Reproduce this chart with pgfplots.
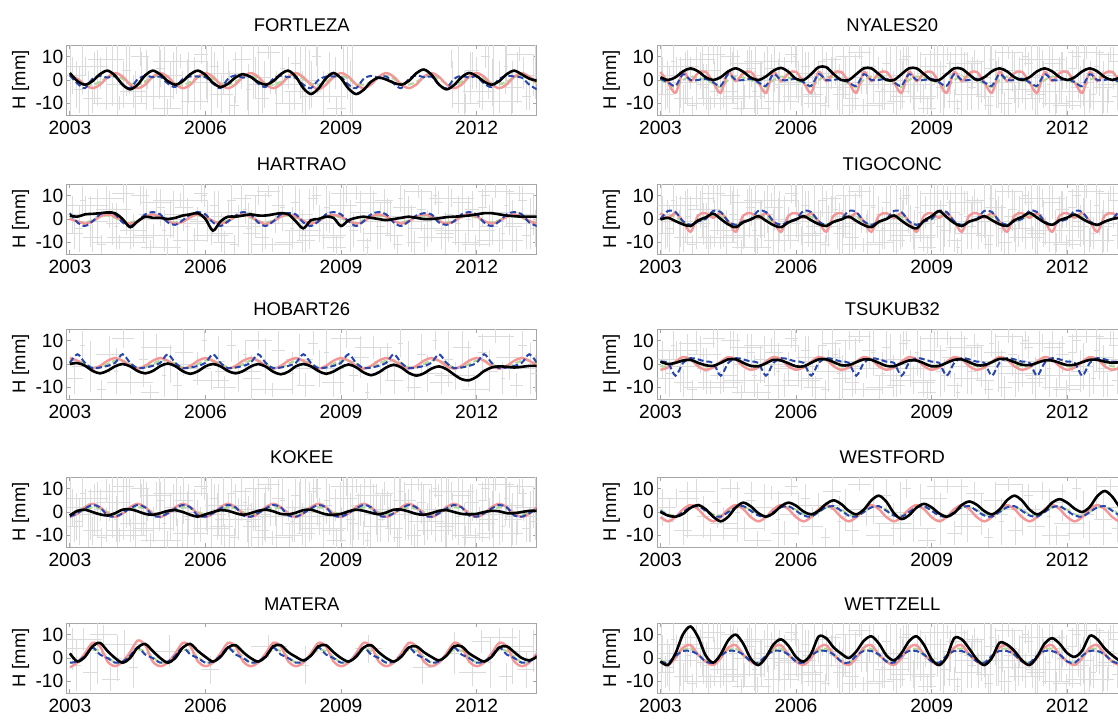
\documentclass[border=0pt]{standalone}
\usepackage{fontspec}
\setmainfont{Liberation Sans}
\usepackage{pgfplots}
\pgfplotsset{compat=1.18}
\usepackage{pgfplotstable}
\definecolor{cred}{RGB}{244,150,150}
\definecolor{cblue}{RGB}{40,70,175}
\definecolor{cgreen}{RGB}{175,215,150}

% grey error-bar segments (vertical and horizontal), separated by nan
\pgfplotstableread[row sep=\\]{x y\\
3.05 -6\\3.05 10\\nan nan\\2.75 2\\3.35 2\\nan nan\\
3.2 -14\\3.2 6\\nan nan\\3.1 -4\\3.3 -4\\nan nan\\
3.35 2\\3.35 10\\nan nan\\2.85 6\\3.85 6\\nan nan\\
3.5 -14\\3.5 -2\\nan nan\\3.3 -8\\3.7 -8\\nan nan\\
3.6 -11\\3.6 13\\nan nan\\3.55 1\\3.65 1\\nan nan\\
3.8 4\\3.8 14\\nan nan\\3.4 9\\4.2 9\\nan nan\\
3.95 -11\\3.95 7\\nan nan\\3.8 -2\\4.1 -2\\nan nan\\
4.1 -13\\4.1 -7\\nan nan\\3.5 -10\\4.7 -10\\nan nan\\
4.25 -7\\4.25 15\\nan nan\\4.15 4\\4.35 4\\nan nan\\
4.4 -12\\4.4 2\\nan nan\\4.1 -5\\4.7 -5\\nan nan\\
4.55 6\\4.55 14\\nan nan\\4.35 10\\4.75 10\\nan nan\\
4.7 -13\\4.7 13\\nan nan\\4.65 0\\4.75 0\\nan nan\\
4.85 -12\\4.85 -2\\nan nan\\4.4 -7\\5.3 -7\\nan nan\\
5 -3\\5 13\\nan nan\\4.9 5\\5.1 5\\nan nan\\
5.15 -16\\5.15 -8\\nan nan\\4.85 -12\\5.45 -12\\nan nan\\
5.3 -8\\5.3 12\\nan nan\\5.1 2\\5.5 2\\nan nan\\
5.45 5\\5.45 11\\nan nan\\4.85 8\\6.05 8\\nan nan\\
5.6 -15\\5.6 9\\nan nan\\5.55 -3\\5.65 -3\\nan nan\\
5.75 -14\\5.75 -4\\nan nan\\5.45 -9\\6.05 -9\\nan nan\\
5.9 7\\5.9 15\\nan nan\\5.75 11\\6.05 11\\nan nan\\
6.05 -10\\6.05 8\\nan nan\\5.65 -1\\6.45 -1\\nan nan\\
6.2 0\\6.2 12\\nan nan\\6.1 6\\6.3 6\\nan nan\\
6.35 -14\\6.35 2\\nan nan\\6.1 -6\\6.6 -6\\nan nan\\
6.5 -2\\6.5 8\\nan nan\\6 3\\7 3\\nan nan\\
6.65 -15\\6.65 -7\\nan nan\\6.55 -11\\6.75 -11\\nan nan\\
6.8 3\\6.8 15\\nan nan\\6.6 9\\7 9\\nan nan\\
6.95 -15\\6.95 7\\nan nan\\6.9 -4\\7 -4\\nan nan\\
7.1 -8\\7.1 10\\nan nan\\6.75 1\\7.45 1\\nan nan\\
7.25 -14\\7.25 -2\\nan nan\\7.1 -8\\7.4 -8\\nan nan\\
7.4 9\\7.4 15\\nan nan\\7.15 12\\7.65 12\\nan nan\\
7.55 -6\\7.55 2\\nan nan\\6.95 -2\\8.15 -2\\nan nan\\
7.7 -5\\7.7 15\\nan nan\\7.65 5\\7.75 5\\nan nan\\
7.85 -15\\7.85 -5\\nan nan\\7.55 -10\\8.15 -10\\nan nan\\
8 0\\8 14\\nan nan\\7.9 7\\8.1 7\\nan nan\\
8.15 -14\\8.15 4\\nan nan\\7.75 -5\\8.55 -5\\nan nan\\
8.3 -13\\8.3 13\\nan nan\\8.1 0\\8.5 0\\nan nan\\
8.45 6\\8.45 14\\nan nan\\8.35 10\\8.55 10\\nan nan\\
8.6 -13\\8.6 -1\\nan nan\\8.1 -7\\9.1 -7\\nan nan\\
8.75 -6\\8.75 12\\nan nan\\8.7 3\\8.8 3\\nan nan\\
8.9 -17\\8.9 -7\\nan nan\\8.7 -12\\9.1 -12\\nan nan\\
9.05 -2\\9.05 14\\nan nan\\8.75 6\\9.35 6\\nan nan\\
9.2 -14\\9.2 8\\nan nan\\9.1 -3\\9.3 -3\\nan nan\\
9.35 8\\9.35 14\\nan nan\\8.9 11\\9.8 11\\nan nan\\
9.5 -14\\9.5 -4\\nan nan\\9.35 -9\\9.65 -9\\nan nan\\
9.65 -10\\9.65 14\\nan nan\\9.6 2\\9.7 2\\nan nan\\
9.8 -13\\9.8 1\\nan nan\\9.5 -6\\10.1 -6\\nan nan\\
9.95 3\\9.95 13\\nan nan\\9.75 8\\10.15 8\\nan nan\\
10.1 -10\\10.1 8\\nan nan\\9.5 -1\\10.7 -1\\nan nan\\
10.25 -15\\10.25 -7\\nan nan\\10.15 -11\\10.35 -11\\nan nan\\
10.4 -3\\10.4 13\\nan nan\\10.15 5\\10.65 5\\nan nan\\
10.55 -14\\10.55 6\\nan nan\\10.5 -4\\10.6 -4\\nan nan\\
10.7 9\\10.7 15\\nan nan\\10.4 12\\11 12\\nan nan\\
10.85 -14\\10.85 -2\\nan nan\\10.7 -8\\11 -8\\nan nan\\
11 -10\\11 12\\nan nan\\10.6 1\\11.4 1\\nan nan\\
11.15 2\\11.15 12\\nan nan\\11.05 7\\11.25 7\\nan nan\\
11.3 -15\\11.3 3\\nan nan\\11.1 -6\\11.5 -6\\nan nan\\
11.45 5\\11.45 13\\nan nan\\10.95 9\\11.95 9\\nan nan\\
11.6 -14\\11.6 10\\nan nan\\11.55 -2\\11.65 -2\\nan nan\\
11.75 -14\\11.75 -6\\nan nan\\11.45 -10\\12.05 -10\\nan nan\\
11.9 -4\\11.9 12\\nan nan\\11.75 4\\12.05 4\\nan nan\\
12.05 -12\\12.05 2\\nan nan\\11.7 -5\\12.4 -5\\nan nan\\
12.2 5\\12.2 15\\nan nan\\12.1 10\\12.3 10\\nan nan\\
12.35 -11\\12.35 9\\nan nan\\12.1 -1\\12.6 -1\\nan nan\\
12.5 -14\\12.5 -4\\nan nan\\12 -9\\13 -9\\nan nan\\
12.65 -3\\12.65 15\\nan nan\\12.6 6\\12.7 6\\nan nan\\
12.8 -14\\12.8 8\\nan nan\\12.6 -3\\13 -3\\nan nan\\
12.95 8\\12.95 14\\nan nan\\12.65 11\\13.25 11\\nan nan\\
13.1 -13\\13.1 -1\\nan nan\\13 -7\\13.2 -7\\nan nan\\
13.25 -7\\13.25 11\\nan nan\\12.85 2\\13.65 2\\nan nan\\
}\NA

\pgfplotstableread[row sep=\\]{x y\\
3.1 -13\\3.1 1\\nan nan\\2.9 -6\\3.3 -6\\nan nan\\
3.28 2\\3.28 14\\nan nan\\3.23 8\\3.33 8\\nan nan\\
3.45 -12\\3.45 10\\nan nan\\3.05 -1\\3.85 -1\\nan nan\\
3.7 -15\\3.7 -7\\nan nan\\3.6 -11\\3.8 -11\\nan nan\\
3.88 -4\\3.88 12\\nan nan\\3.58 4\\4.18 4\\nan nan\\
4.02 -13\\4.02 7\\nan nan\\3.97 -3\\4.07 -3\\nan nan\\
4.18 7\\4.18 15\\nan nan\\3.93 11\\4.43 11\\nan nan\\
4.33 -13\\4.33 -3\\nan nan\\3.83 -8\\4.83 -8\\nan nan\\
4.62 -10\\4.62 14\\nan nan\\4.52 2\\4.72 2\\nan nan\\
4.78 -15\\4.78 -9\\nan nan\\4.58 -12\\4.98 -12\\nan nan\\
4.92 1\\4.92 13\\nan nan\\4.57 7\\5.27 7\\nan nan\\
5.08 -14\\5.08 4\\nan nan\\5.03 -5\\5.13 -5\\nan nan\\
5.22 -8\\5.22 8\\nan nan\\4.62 0\\5.82 0\\nan nan\\
5.38 -15\\5.38 -3\\nan nan\\5.28 -9\\5.48 -9\\nan nan\\
5.52 -5\\5.52 15\\nan nan\\5.32 5\\5.72 5\\nan nan\\
5.82 -9\\5.82 5\\nan nan\\5.52 -2\\6.12 -2\\nan nan\\
5.98 5\\5.98 15\\nan nan\\5.93 10\\6.03 10\\nan nan\\
6.12 -11\\6.12 -3\\nan nan\\5.72 -7\\6.52 -7\\nan nan\\
6.28 -10\\6.28 12\\nan nan\\6.13 1\\6.43 1\\nan nan\\
6.42 -15\\6.42 -5\\nan nan\\6.17 -10\\6.67 -10\\nan nan\\
6.58 1\\6.58 15\\nan nan\\6.48 8\\6.68 8\\nan nan\\
6.72 -12\\6.72 6\\nan nan\\6.22 -3\\7.22 -3\\nan nan\\
6.88 -2\\6.88 10\\nan nan\\6.83 4\\6.93 4\\nan nan\\
7.02 -16\\7.02 4\\nan nan\\6.82 -6\\7.22 -6\\nan nan\\
7.18 6\\7.18 14\\nan nan\\6.88 10\\7.48 10\\nan nan\\
7.32 -13\\7.32 11\\nan nan\\7.22 -1\\7.42 -1\\nan nan\\
7.48 -14\\7.48 -8\\nan nan\\7.03 -11\\7.93 -11\\nan nan\\
7.62 -2\\7.62 14\\nan nan\\7.47 6\\7.77 6\\nan nan\\
7.92 -13\\7.92 5\\nan nan\\7.87 -4\\7.97 -4\\nan nan\\
8.08 -9\\8.08 13\\nan nan\\7.78 2\\8.38 2\\nan nan\\
8.22 -14\\8.22 -4\\nan nan\\8.02 -9\\8.42 -9\\nan nan\\
8.38 4\\8.38 14\\nan nan\\8.28 9\\8.48 9\\nan nan\\
8.52 -10\\8.52 6\\nan nan\\7.97 -2\\9.07 -2\\nan nan\\
8.68 -5\\8.68 15\\nan nan\\8.63 5\\8.73 5\\nan nan\\
8.82 -14\\8.82 -2\\nan nan\\8.57 -8\\9.07 -8\\nan nan\\
8.98 -13\\8.98 13\\nan nan\\8.83 0\\9.13 0\\nan nan\\
9.12 7\\9.12 15\\nan nan\\8.77 11\\9.47 11\\nan nan\\
9.28 -12\\9.28 2\\nan nan\\9.18 -5\\9.38 -5\\nan nan\\
9.42 -6\\9.42 12\\nan nan\\9.22 3\\9.62 3\\nan nan\\
9.58 -16\\9.58 -8\\nan nan\\9.53 -12\\9.63 -12\\nan nan\\
9.72 2\\9.72 12\\nan nan\\9.32 7\\10.12 7\\nan nan\\
9.88 -13\\9.88 7\\nan nan\\9.78 -3\\9.98 -3\\nan nan\\
10.02 -7\\10.02 9\\nan nan\\9.72 1\\10.32 1\\nan nan\\
10.18 -13\\10.18 -1\\nan nan\\9.98 -7\\10.38 -7\\nan nan\\
10.32 3\\10.32 15\\nan nan\\10.27 9\\10.37 9\\nan nan\\
10.48 -12\\10.48 10\\nan nan\\9.98 -1\\10.98 -1\\nan nan\\
10.62 -15\\10.62 -5\\nan nan\\10.47 -10\\10.77 -10\\nan nan\\
10.78 -5\\10.78 13\\nan nan\\10.68 4\\10.88 4\\nan nan\\
10.92 -12\\10.92 4\\nan nan\\10.57 -4\\11.27 -4\\nan nan\\
11.08 6\\11.08 14\\nan nan\\11.03 10\\11.13 10\\nan nan\\
11.22 -13\\11.22 -3\\nan nan\\10.97 -8\\11.47 -8\\nan nan\\
11.38 -10\\11.38 14\\nan nan\\11.28 2\\11.48 2\\nan nan\\
11.52 -11\\11.52 1\\nan nan\\11.07 -5\\11.97 -5\\nan nan\\
11.68 0\\11.68 14\\nan nan\\11.48 7\\11.88 7\\nan nan\\
11.82 -10\\11.82 10\\nan nan\\11.77 0\\11.87 0\\nan nan\\
11.98 -15\\11.98 -7\\nan nan\\11.68 -11\\12.28 -11\\nan nan\\
12.12 -3\\12.12 13\\nan nan\\12.02 5\\12.22 5\\nan nan\\
12.28 -12\\12.28 6\\nan nan\\12.08 -3\\12.48 -3\\nan nan\\
12.42 9\\12.42 15\\nan nan\\12.02 12\\12.82 12\\nan nan\\
12.58 -13\\12.58 1\\nan nan\\12.53 -6\\12.63 -6\\nan nan\\
12.72 -7\\12.72 13\\nan nan\\12.42 3\\13.02 3\\nan nan\\
12.88 -14\\12.88 -4\\nan nan\\12.73 -9\\13.03 -9\\nan nan\\
13.02 2\\13.02 14\\nan nan\\12.92 8\\13.12 8\\nan nan\\
13.18 -13\\13.18 9\\nan nan\\12.68 -2\\13.68 -2\\nan nan\\
13.3 -12\\13.3 4\\nan nan\\13.2 -4\\13.4 -4\\nan nan\\
}\NB

\pgfplotstableread[row sep=\\]{x y\\
3.05 -5\\3.05 13\\nan nan\\2.75 4\\3.35 4\\nan nan\\
3.15 -14\\3.15 8\\nan nan\\3.05 -3\\3.25 -3\\nan nan\\
3.3 3\\3.3 13\\nan nan\\2.9 8\\3.7 8\\nan nan\\
3.45 -14\\3.45 2\\nan nan\\3.3 -6\\3.6 -6\\nan nan\\
3.6 -11\\3.6 15\\nan nan\\3.55 2\\3.65 2\\nan nan\\
3.75 6\\3.75 14\\nan nan\\3.45 10\\4.05 10\\nan nan\\
3.9 -14\\3.9 -4\\nan nan\\3.7 -9\\4.1 -9\\nan nan\\
4.05 -10\\4.05 10\\nan nan\\3.95 0\\4.15 0\\nan nan\\
4.2 0\\4.2 12\\nan nan\\3.7 6\\4.7 6\\nan nan\\
4.4 -13\\4.4 5\\nan nan\\4.3 -4\\4.5 -4\\nan nan\\
5.2 -4\\5.2 10\\nan nan\\4.9 3\\5.5 3\\nan nan\\
6.1 -11\\6.1 1\\nan nan\\5.9 -5\\6.3 -5\\nan nan\\
7.4 0\\7.4 10\\nan nan\\7 5\\7.8 5\\nan nan\\
8.2 -11\\8.2 5\\nan nan\\8.1 -3\\8.3 -3\\nan nan\\
9.6 -2\\9.6 10\\nan nan\\9.3 4\\9.9 4\\nan nan\\
10.8 -11\\10.8 3\\nan nan\\10.6 -4\\11 -4\\nan nan\\
11.5 -7\\11.5 11\\nan nan\\11.4 2\\11.6 2\\nan nan\\
11.9 -12\\11.9 0\\nan nan\\11.6 -6\\12.2 -6\\nan nan\\
12.1 2\\12.1 12\\nan nan\\11.9 7\\12.3 7\\nan nan\\
12.3 -13\\12.3 9\\nan nan\\12.25 -2\\12.35 -2\\nan nan\\
12.5 5\\12.5 13\\nan nan\\12.1 9\\12.9 9\\nan nan\\
12.65 -14\\12.65 -2\\nan nan\\12.5 -8\\12.8 -8\\nan nan\\
12.8 -11\\12.8 13\\nan nan\\12.7 1\\12.9 1\\nan nan\\
12.95 -2\\12.95 12\\nan nan\\12.65 5\\13.25 5\\nan nan\\
13.1 -13\\13.1 3\\nan nan\\12.9 -5\\13.3 -5\\nan nan\\
13.25 -6\\13.25 12\\nan nan\\12.85 3\\13.65 3\\nan nan\\
}\NC

% dense vertical error bars
\pgfplotstableread[row sep=\\]{x y\\
3.02 -15\\3.02 15\\nan nan\\3.15 -12\\3.15 8\\nan nan\\3.28 -6\\3.28 15\\nan nan\\3.41 -15\\3.41 4\\nan nan\\
3.54 -10\\3.54 12\\nan nan\\3.67 -4\\3.67 10\\nan nan\\3.80 -13\\3.80 2\\nan nan\\3.93 -8\\3.93 15\\nan nan\\
4.06 -15\\4.06 15\\nan nan\\4.19 -12\\4.19 8\\nan nan\\4.32 -6\\4.32 15\\nan nan\\4.45 -15\\4.45 4\\nan nan\\
4.58 -10\\4.58 12\\nan nan\\4.71 -4\\4.71 10\\nan nan\\4.84 -13\\4.84 2\\nan nan\\4.97 -8\\4.97 15\\nan nan\\
5.10 -15\\5.10 15\\nan nan\\5.23 -12\\5.23 8\\nan nan\\5.36 -6\\5.36 15\\nan nan\\5.49 -15\\5.49 4\\nan nan\\
5.62 -10\\5.62 12\\nan nan\\5.75 -4\\5.75 10\\nan nan\\5.88 -13\\5.88 2\\nan nan\\6.01 -8\\6.01 15\\nan nan\\
6.14 -15\\6.14 15\\nan nan\\6.27 -12\\6.27 8\\nan nan\\6.40 -6\\6.40 15\\nan nan\\6.53 -15\\6.53 4\\nan nan\\
6.66 -10\\6.66 12\\nan nan\\6.79 -4\\6.79 10\\nan nan\\6.92 -13\\6.92 2\\nan nan\\7.05 -8\\7.05 15\\nan nan\\
7.18 -15\\7.18 15\\nan nan\\7.31 -12\\7.31 8\\nan nan\\7.44 -6\\7.44 15\\nan nan\\7.57 -15\\7.57 4\\nan nan\\
7.70 -10\\7.70 12\\nan nan\\7.83 -4\\7.83 10\\nan nan\\7.96 -13\\7.96 2\\nan nan\\8.09 -8\\8.09 15\\nan nan\\
8.22 -15\\8.22 15\\nan nan\\8.35 -12\\8.35 8\\nan nan\\8.48 -6\\8.48 15\\nan nan\\8.61 -15\\8.61 4\\nan nan\\
8.74 -10\\8.74 12\\nan nan\\8.87 -4\\8.87 10\\nan nan\\9.00 -13\\9.00 2\\nan nan\\9.13 -8\\9.13 15\\nan nan\\
9.26 -15\\9.26 15\\nan nan\\9.39 -12\\9.39 8\\nan nan\\9.52 -6\\9.52 15\\nan nan\\9.65 -15\\9.65 4\\nan nan\\
9.78 -10\\9.78 12\\nan nan\\9.91 -4\\9.91 10\\nan nan\\10.04 -13\\10.04 2\\nan nan\\10.17 -8\\10.17 15\\nan nan\\
10.30 -15\\10.30 15\\nan nan\\10.43 -12\\10.43 8\\nan nan\\10.56 -6\\10.56 15\\nan nan\\10.69 -15\\10.69 4\\nan nan\\
10.82 -10\\10.82 12\\nan nan\\10.95 -4\\10.95 10\\nan nan\\11.08 -13\\11.08 2\\nan nan\\11.21 -8\\11.21 15\\nan nan\\
11.34 -15\\11.34 15\\nan nan\\11.47 -12\\11.47 8\\nan nan\\11.60 -6\\11.60 15\\nan nan\\11.73 -15\\11.73 4\\nan nan\\
11.86 -10\\11.86 12\\nan nan\\11.99 -4\\11.99 10\\nan nan\\12.12 -13\\12.12 2\\nan nan\\12.25 -8\\12.25 15\\nan nan\\
12.38 -15\\12.38 15\\nan nan\\12.51 -12\\12.51 8\\nan nan\\12.64 -6\\12.64 15\\nan nan\\12.77 -15\\12.77 4\\nan nan\\
12.90 -10\\12.90 12\\nan nan\\13.03 -4\\13.03 10\\nan nan\\13.16 -13\\13.16 2\\nan nan\\13.29 -8\\13.29 15\\nan nan\\
}\ND

\pgfplotsset{
  table/ts/.style={row sep=\\, header=false, x expr=3+\coordindex/6, y index=0},
  panel/.style={
    anchor=north west, scale only axis, width=235pt, height=35pt,
    xmin=2.93, xmax=13.33, ymin=-15, ymax=15,
    xtick={3,6,9,12}, xticklabels={2003,2006,2009,2012},
    ytick={-10,0,10}, yticklabels={-10,0,10},
    axis line style={gray!70, line width=0.5pt},
    tick style={gray!70, line width=0.4pt}, major tick length=2pt,
    tick label style={font=\fontsize{9.6}{10}\selectfont, text=black},
    xticklabel style={yshift=0.5pt},
    yticklabel style={inner sep=1.5pt},
    title style={font=\fontsize{9.2}{10}\selectfont, yshift=-3.1pt},
    ylabel={H [mm]},
    ylabel style={at={(axis description cs:-0.098,0.5)}, anchor=center, font=\fontsize{9.2}{10}\selectfont},
  },
  noise/.style={gray!28, line width=0.35pt, unbounded coords=jump, forget plot},
  blk/.style={black, line width=1.3pt, smooth},
  rd/.style={cred, line width=1.2pt, smooth},
  bl/.style={cblue, line width=1pt, dash pattern=on 3pt off 1.5pt, smooth},
  gr/.style={cgreen, line width=1pt, dash pattern=on 3pt off 1.5pt, smooth},
}

\begin{document}
\begin{tikzpicture}
\useasboundingbox (0,0) rectangle (559pt,-359.5pt);

% ---------------- FORTLEZA
\begin{axis}[panel, at={(33.35pt,-22.5pt)}, title={FORTLEZA}]
\addplot[noise, x filter/.expression={and(x>9.3,x<11.4) ? nan : x}] table[x=x,y=y]{\NA};
\addplot[noise, x filter/.expression={and(x>9.3,x<11.4) ? nan : x}] table[x=x,y=y]{\ND};
\addplot[gr] table[ts]{1.8\\0.5\\-1.5\\-2\\-0.8\\1.2\\ 1.8\\0.5\\-1.5\\-2\\-0.8\\1.2\\ 1.8\\0.5\\-1.5\\-2\\-0.8\\1.2\\ 1.8\\0.5\\-1.5\\-2\\-0.8\\1.2\\ 1.8\\0.5\\-1.5\\-2\\-0.8\\1.2\\ 1.8\\0.5\\-1.5\\-2\\-0.8\\1.2\\ 1.8\\0.5\\-1.5\\-2\\-0.8\\1.2\\ 1.8\\0.5\\-1.5\\-2\\-0.8\\1.2\\ 1.8\\0.5\\-1.5\\-2\\-0.8\\1.2\\ 1.8\\0.5\\-1.5\\-2\\-0.8\\1.2\\ 1.8\\0.5\\-1.5\\};
\addplot[rd] table[ts]{2\\0.5\\-2\\-3.5\\-2\\1.2\\ 3\\1.5\\-2\\-3.5\\-2\\1.4\\ 3\\1.4\\-1.8\\-3.5\\-2\\1.4\\ 3\\1.4\\-1.9\\-3.5\\-1.9\\1.4\\ 3\\1.4\\-1.9\\-3.5\\-1.9\\1.4\\ 3\\1.2\\-2\\-4\\-2\\1.2\\ 3\\1.4\\-1.9\\-3.5\\-1.9\\1.4\\ 3\\1.4\\-1.9\\-3.5\\-1.9\\1.4\\ 3\\1.4\\-1.9\\-3.5\\-2\\1.4\\ 3\\1.4\\-1.9\\-3.5\\-1.9\\1.4\\ 3\\1.4\\-1\\};
\addplot[bl] table[ts]{2\\-1.5\\-3.5\\0.5\\1.8\\1\\ 1.5\\-2\\-3.5\\0.3\\1.8\\1.2\\ 1.5\\-1.5\\-3\\0.5\\1.5\\1.5\\ 1.2\\-1.5\\-3.5\\0.5\\2\\1\\ 1.5\\-1.5\\-3\\0.5\\1.8\\1.2\\ 1\\-2\\-3.5\\0\\1.5\\1.5\\ 1.2\\-2\\-3.5\\0.5\\1.8\\1\\ 1.5\\-1.5\\-3.5\\0.5\\2\\1.2\\ 1.5\\-2\\-3.5\\0.5\\1.8\\1\\ 1.5\\-1.5\\-3\\0.5\\1.8\\1.5\\ 1\\-2\\-4\\};
\addplot[blk] table[ts]{3\\-0.5\\-2\\-0.5\\2.5\\4\\ 1.9\\-2\\-4\\-2\\2\\4\\ 2.4\\-0.5\\-2\\-0.5\\2.5\\4\\ 2.2\\-1.2\\-3\\-1.6\\1.1\\2.5\\ 1.3\\-0.9\\-2\\-0.5\\2.5\\4\\ 1.4\\-3.5\\-6\\-3.7\\0.7\\3\\ 0.7\\-3.7\\-6\\-4.2\\-0.7\\1\\ 0.2\\-1.2\\-2\\-0.4\\2.9\\4.5\\ 2.3\\-1.9\\-4\\-2.2\\1.2\\3\\ 1.7\\-0.7\\-2\\-0.5\\2.5\\4\\ 2.4\\0.6\\-0.3\\};
\end{axis}

% ---------------- HARTRAO
\begin{axis}[panel, at={(33.35pt,-92pt)}, title={HARTRAO}]
\addplot[noise] table[x=x,y=y]{\NA};
\addplot[noise] table[x=x,y=y]{\NB};
\addplot[gr] table[ts]{0.5\\-1\\-1.5\\-0.5\\1\\1.5\\ 0.5\\-1\\-1.5\\-0.5\\1\\1.5\\ 0.5\\-1\\-1.5\\-0.5\\1\\1.5\\ 0.5\\-1\\-1.5\\-0.5\\1\\1.5\\ 0.5\\-1\\-1.5\\-0.5\\1\\1.5\\ 0.5\\-1\\-1.5\\-0.5\\1\\1.5\\ 0.5\\-1\\-1.5\\-0.5\\1\\1.5\\ 0.5\\-1\\-1.5\\-0.5\\1\\1.5\\ 0.5\\-1\\-1.5\\-0.5\\1\\1.5\\ 0.5\\-1\\-1.5\\-0.5\\1\\1.5\\ 0.5\\-1\\-1.5\\};
\addplot[rd] table[ts]{0\\-1\\-2\\-1\\1\\2\\ 1\\-0.8\\-2\\-1\\1\\2\\ 1\\-0.8\\-2\\-1.2\\0.8\\2\\ 1\\-0.8\\-2\\-1\\1\\2\\ 1\\-0.8\\-2.2\\-1\\1\\2\\ 1\\-0.8\\-2\\-1\\1\\1.8\\ 1\\-0.8\\-2\\-1\\1\\2\\ 1\\-0.8\\-2\\-1\\1\\2\\ 1\\-0.8\\-2\\-1\\1\\2.2\\ 1\\-0.8\\-2\\-1\\1\\2\\ 1\\-0.8\\-2\\};
\addplot[bl] table[ts]{2.5\\-1.5\\-3\\-1\\2\\3\\ 2\\-1.5\\-3\\-1\\2\\3\\ 2\\-1.5\\-2.5\\-0.5\\2\\3\\ 2\\-1.5\\-3\\-1\\1.5\\3\\ 2\\-1.5\\-3\\-1\\2\\2.5\\ 2\\-1.5\\-3\\-1\\2\\3\\ 2\\-1\\-3\\-1\\2\\3\\ 2\\-1.5\\-3\\-1\\1.5\\2.5\\ 2\\-1.5\\-2.5\\-1\\2\\3\\ 2\\-1.5\\-3\\-1\\2\\3\\ 2\\-1.5\\-3\\};
\addplot[blk] table[ts]{1.5\\1\\2\\2.2\\2.5\\2.8\\ 2.5\\0\\-3.5\\-1\\1\\0.5\\ 0.5\\0\\0.5\\1.5\\2\\2.5\\ 0\\-5\\-1\\1\\1\\1.5\\ 2\\1.5\\1.5\\2\\2.5\\2\\ -1\\-4\\-0.5\\0\\1\\0.5\\ -3\\-0.5\\0.5\\1\\0.5\\0\\ -0.5\\0\\0.5\\1\\0.5\\0\\ 0\\0.3\\0.8\\1\\1.2\\1.5\\ 2\\2.5\\2.5\\2\\1.5\\1.2\\ 1\\1\\1\\};
\end{axis}

% ---------------- HOBART26
\begin{axis}[panel, at={(33.35pt,-164.5pt)}, title={HOBART26}]
\addplot[noise] table[x=x,y=y]{\NB};
\addplot[gr] table[ts]{1.5\\1.5\\0\\-1.5\\-1.5\\0\\ 1.5\\1.5\\0\\-1.5\\-1.5\\0\\ 1.5\\1.5\\0\\-1.5\\-1.5\\0\\ 1.5\\1.5\\0\\-1.5\\-1.5\\0\\ 1.5\\1.5\\0\\-1.5\\-1.5\\0\\ 1.5\\1.5\\0\\-1.5\\-1.5\\0\\ 1.5\\1.5\\0\\-1.5\\-1.5\\0\\ 1.5\\1.5\\0\\-1.5\\-1.5\\0\\ 1.5\\1.5\\0\\-1.5\\-1.5\\0\\ 1.5\\1.5\\0\\-1.5\\-1.5\\0\\ 1.5\\1.5\\0\\};
\addplot[rd] table[ts]{2.6\\1.4\\-0.8\\-2\\-0.8\\1.4\\ 2.6\\1.4\\-0.8\\-2\\-0.8\\1.4\\ 2.6\\1.4\\-0.8\\-2\\-0.8\\1.4\\ 2.6\\1.4\\-0.8\\-2\\-0.8\\1.4\\ 2.6\\1.4\\-0.8\\-2\\-0.8\\1.4\\ 2.6\\1.4\\-0.8\\-2\\-0.8\\1.4\\ 2.6\\1.4\\-0.8\\-2\\-0.8\\1.4\\ 2.6\\1.4\\-0.8\\-2\\-0.8\\1.4\\ 2.6\\1.4\\-0.8\\-2\\-0.8\\1.4\\ 2.6\\1.4\\-0.8\\-2\\-0.8\\1.4\\ 2.6\\1.4\\-0.8\\};
\addplot[bl] table[ts]{0.5\\4.2\\0.5\\-1.8\\-1.5\\-0.8\\ 0.5\\4.2\\0.5\\-1.8\\-1.5\\-0.8\\ 0.5\\4.2\\0.5\\-1.8\\-1.5\\-0.8\\ 0.5\\4.2\\0.5\\-1.8\\-1.5\\-0.8\\ 0.5\\4.2\\0.5\\-1.8\\-1.5\\-0.8\\ 0.5\\4.2\\0.5\\-1.8\\-1.5\\-0.8\\ 0.5\\4.2\\0.5\\-1.8\\-1.5\\-0.8\\ 0.5\\4.2\\0.5\\-1.8\\-1.5\\-0.8\\ 0.5\\4.2\\0.5\\-1.8\\-1.5\\-0.8\\ 0.5\\4.2\\0.5\\-1.8\\-1.5\\-0.8\\ 0.5\\4.2\\0.5\\};
\addplot[blk] table[ts]{0\\0.4\\-0.7\\-2.9\\-4\\-2.9\\ -1\\0\\-1\\-3\\-4\\-3\\ -0.9\\0.2\\-0.9\\-3.1\\-4.2\\-3.1\\ -1\\0\\-1\\-3\\-4\\-3\\ -1.1\\0\\-1.1\\-3.3\\-4.4\\-3.3\\ -1\\0\\-1\\-3\\-4.2\\-3.2\\ -1.4\\-0.2\\-1.4\\-3.6\\-4.8\\-3.6\\ -1.5\\-0.3\\-1.5\\-3.8\\-5\\-4\\ -2\\-1\\-2.2\\-4.5\\-6.5\\-7\\ -5.5\\-3\\-1.5\\-1\\-1.2\\-1.5\\ -1.2\\-0.8\\-0.8\\};
\end{axis}

% ---------------- KOKEE
\begin{axis}[panel, at={(33.35pt,-238.5pt)}, title={KOKEE}]
\addplot[noise] table[x=x,y=y]{\NA};
\addplot[noise] table[x=x,y=y]{\NB};
\addplot[noise] table[x=x,y=y]{\ND};
\addplot[gr] table[ts]{-1\\-0.5\\1\\2\\1.5\\0\\ -1\\-0.5\\1\\2\\1.5\\0\\ -1\\-0.5\\1\\2\\1.5\\0\\ -1\\-0.5\\1\\2\\1.5\\0\\ -1\\-0.5\\1\\2\\1.5\\0\\ -1\\-0.5\\1\\2\\1.5\\0\\ -1\\-0.5\\1\\2\\1.5\\0\\ -1\\-0.5\\1\\2\\1.5\\0\\ -1\\-0.5\\1\\2\\1.5\\0\\ -1\\-0.5\\1\\2\\1.5\\0\\ -1\\-0.5\\1\\};
\addplot[rd] table[ts]{-2.1\\-0.7\\2.1\\3.5\\2.1\\-0.7\\ -2.1\\-0.7\\2.1\\3.5\\2.1\\-0.7\\ -2.1\\-0.7\\2.1\\3.5\\2.1\\-0.7\\ -2.1\\-0.7\\2.1\\3.5\\2.1\\-0.7\\ -2.1\\-0.7\\2.1\\3.5\\2.1\\-0.7\\ -2.1\\-0.7\\2.1\\3.5\\2.1\\-0.7\\ -2.1\\-0.7\\2.1\\3.5\\2.1\\-0.7\\ -2.1\\-0.7\\2.1\\3.5\\2.1\\-0.7\\ -2.1\\-0.7\\2.1\\3.5\\2.1\\-0.7\\ -2.1\\-0.7\\2.1\\3.5\\2.1\\-0.7\\ -2.1\\-0.7\\2.1\\};
\addplot[bl] table[ts]{-2\\-0.5\\1.5\\3\\2\\-1.5\\ -2\\-0.5\\1.5\\3\\2\\-1.5\\ -2\\-0.5\\1.5\\3\\2\\-1.5\\ -2\\-0.5\\1.5\\3\\2\\-1.5\\ -2\\-0.5\\1.5\\3\\2\\-1.5\\ -2\\-0.5\\1.5\\3\\2\\-1.5\\ -2\\-0.5\\1.5\\3\\2\\-1.5\\ -2\\-0.5\\1.5\\3\\2\\-1.5\\ -2\\-0.5\\1.5\\3\\2\\-1.5\\ -2\\-0.5\\1.5\\3\\2\\-1.5\\ -2\\-0.5\\1.5\\};
\addplot[blk] table[ts]{-1.5\\0.5\\1\\0\\-1\\-1.5\\ -0.5\\1\\1.2\\0.3\\-0.8\\-1.2\\ -0.5\\0.5\\0.8\\0\\-1.2\\-2\\ -1\\0\\0.8\\0.5\\-0.5\\-1.2\\ -0.5\\0.5\\1\\0.3\\-0.8\\-1\\ -0.3\\0.8\\1\\0\\-1\\-1.2\\ -0.8\\0.3\\1\\0.5\\-0.3\\-1\\ -0.2\\1\\1\\0.2\\-0.8\\-1.2\\ -0.5\\0.5\\0.8\\0\\-0.8\\-1\\ -0.8\\0\\0.5\\0.3\\-0.5\\-0.5\\ 0\\0.5\\0.5\\};
\end{axis}

% ---------------- MATERA
\begin{axis}[panel, at={(33.35pt,-311.5pt)}, title={MATERA}]
\addplot[noise] table[x=x,y=y]{\NC};
\addplot[gr] table[ts]{-2\\-1.5\\1\\3.5\\3\\0.5\\ -2\\-1.5\\1\\3.5\\3\\0.5\\ -2\\-1.5\\1\\3.5\\3\\0.5\\ -2\\-1.5\\1\\3.5\\3\\0.5\\ -2\\-1.5\\1\\3.5\\3\\0.5\\ -2\\-1.5\\1\\3.5\\3\\0.5\\ -2\\-1.5\\1\\3.5\\3\\0.5\\ -2\\-1.5\\1\\3.5\\3\\0.5\\ -2\\-1.5\\1\\3.5\\3\\0.5\\ -2\\-1.5\\1\\3.5\\3\\0.5\\ -2\\-1.5\\1\\};
\addplot[rd] table[ts]{-4\\-2\\2\\6.5\\5\\-1.5\\ -3.5\\-1.5\\2.5\\7.5\\5.5\\-1.5\\ -3.5\\-2\\2\\6.5\\5\\-1.5\\ -3.5\\-2\\2\\6.5\\5\\-1.5\\ -3.5\\-2\\2\\6.5\\5\\-1.5\\ -3.5\\-2\\2\\6.5\\5\\-1.5\\ -3.5\\-2\\2\\6.5\\5\\-1.5\\ -3.5\\-2\\2\\6.5\\5\\-1.5\\ -3.5\\-2\\2\\6.5\\5\\-1.5\\ -3.5\\-2\\2\\6.5\\5\\-1.5\\ -3.5\\-2\\2\\};
\addplot[bl] table[ts]{-2\\-1.5\\1\\4.5\\1.5\\0\\ -2\\-1.5\\1\\4.5\\1.5\\0\\ -2\\-1.5\\1\\4.5\\1.5\\0\\ -2\\-1.5\\1\\4.5\\1.5\\0\\ -2\\-1.5\\1\\4.5\\1.5\\0\\ -2\\-1.5\\1\\4.5\\1.5\\0\\ -2\\-1.5\\1\\4.5\\1.5\\0\\ -2\\-1.5\\1\\4.5\\1.5\\0\\ -2\\-1.5\\1\\4.5\\1.5\\0\\ -2\\-1.5\\1\\4.5\\1.5\\0\\ -2\\-1.5\\1\\};
\addplot[blk] table[ts]{2\\-1.5\\0.5\\5\\6.5\\3\\ 0\\-2\\0\\4.5\\6\\3\\ 0\\-2\\0\\4.5\\6\\3\\ 0.5\\-1.5\\0.5\\4.5\\5.5\\2.5\\ 0\\-1.5\\0.5\\5\\5.5\\2.5\\ 0.5\\-1\\1\\5\\5.5\\2.5\\ 0\\-1.5\\0.5\\4.5\\5.5\\2.5\\ 0\\-1.5\\0.5\\4.5\\5\\2.5\\ 0.5\\-1\\1\\5\\5\\2\\ 0\\-1.5\\0.5\\4.5\\5\\2.5\\ 0\\-1\\0.5\\};
\end{axis}

% ---------------- NYALES20
\begin{axis}[panel, at={(328.65pt,-22.5pt)}, title={NYALES20}]
\addplot[noise] table[x=x,y=y]{\NA};
\addplot[noise] table[x=x,y=y]{\NB};
\addplot[noise] table[x=x,y=y]{\ND};
\addplot[gr] table[ts]{0\\-1.5\\-3\\0\\1.5\\1\\ 0\\-1.5\\-3\\0\\1.5\\1\\ 0\\-1.5\\-3\\0\\1.5\\1\\ 0\\-1.5\\-3\\0\\1.5\\1\\ 0\\-1.5\\-3\\0\\1.5\\1\\ 0\\-1.5\\-3\\0\\1.5\\1\\ 0\\-1.5\\-3\\0\\1.5\\1\\ 0\\-1.5\\-3\\0\\1.5\\1\\ 0\\-1.5\\-3\\0\\1.5\\1\\ 0\\-1.5\\-3\\0\\1.5\\1\\ 0\\-1.5\\-3\\};
\addplot[rd] table[ts]{3.5\\-1\\-5.5\\3.5\\-0.5\\3\\ 3.5\\-1\\-5.5\\3.5\\-0.5\\3\\ 3.5\\-1\\-5.5\\3.5\\-0.5\\3\\ 3.5\\-1\\-5.5\\3.5\\-0.5\\3\\ 3.5\\-1\\-5.5\\3.5\\-0.5\\3\\ 3.5\\-1\\-5.5\\3.5\\-0.5\\3\\ 3.5\\-1\\-5.5\\3.5\\-0.5\\3\\ 3.5\\-1\\-5.5\\3.5\\-0.5\\3\\ 3.5\\-1\\-5.5\\3.5\\-0.5\\3\\ 3.5\\-1\\-5.5\\3.5\\-0.5\\3\\ 3.5\\-1\\-5.5\\};
\addplot[bl] table[ts]{0.5\\-1\\-2.5\\2.5\\0\\0\\ 0.5\\-1\\-2.5\\2.5\\0\\0\\ 0.5\\-1\\-2.5\\2.5\\0\\0\\ 0.5\\-1\\-2.5\\2.5\\0\\0\\ 0.5\\-1\\-2.5\\2.5\\0\\0\\ 0.5\\-1\\-2.5\\2.5\\0\\0\\ 0.5\\-1\\-2.5\\2.5\\0\\0\\ 0.5\\-1\\-2.5\\2.5\\0\\0\\ 0.5\\-1\\-2.5\\2.5\\0\\0\\ 0.5\\-1\\-2.5\\2.5\\0\\0\\ 0.5\\-1\\-2.5\\};
\addplot[blk] table[ts]{1.2\\0\\1.2\\3.7\\5\\3.7\\ 1.2\\0\\1.2\\3.7\\5\\3.5\\ 1\\0\\1.5\\4\\5.2\\3.5\\ 0.5\\0\\2.5\\5.5\\5.5\\2.5\\ 0\\0\\2.5\\5\\5\\2.5\\ 0\\0\\2.5\\5\\5\\2.5\\ 0\\0\\2.5\\5\\4.8\\2.3\\ 0\\1.2\\3.7\\5\\3.7\\1.2\\ 0\\1.2\\3.7\\5\\3.7\\1.2\\ 0\\1.2\\3.7\\5\\3.7\\1.2\\ 0\\1.2\\3.5\\};
\end{axis}

% ---------------- TIGOCONC
\begin{axis}[panel, at={(328.65pt,-92pt)}, title={TIGOCONC}]
\addplot[noise] table[x=x,y=y]{\NA};
\addplot[noise] table[x=x,y=y]{\NB};
\addplot[noise] table[x=x,y=y]{\ND};
\addplot[gr] table[ts]{0\\1.5\\1\\-1.5\\-2.5\\-1\\ 0\\1.5\\1\\-1.5\\-2.5\\-1\\ 0\\1.5\\1\\-1.5\\-2.5\\-1\\ 0\\1.5\\1\\-1.5\\-2.5\\-1\\ 0\\1.5\\1\\-1.5\\-2.5\\-1\\ 0\\1.5\\1\\-1.5\\-2.5\\-1\\ 0\\1.5\\1\\-1.5\\-2.5\\-1\\ 0\\1.5\\1\\-1.5\\-2.5\\-1\\ 0\\1.5\\1\\-1.5\\-2.5\\-1\\ 0\\1.5\\1\\-1.5\\-2.5\\-1\\ 0\\1.5\\1\\};
\addplot[rd] table[ts]{2.5\\0.5\\2.5\\-1\\-5.5\\1.5\\ 2.5\\0.5\\2.5\\-1\\-5.5\\1.5\\ 2.5\\0.5\\2.5\\-1\\-5.5\\1.5\\ 2.5\\0.5\\2.5\\-1\\-5.5\\1.5\\ 2.5\\0.5\\2.5\\-1\\-5.5\\1.5\\ 2.5\\0.5\\2.5\\-1\\-5.5\\1.5\\ 2.5\\0.5\\2.5\\-1\\-5.5\\1.5\\ 2.5\\0.5\\2.5\\-1\\-5.5\\1.5\\ 2.5\\0.5\\2.5\\-1\\-5.5\\1.5\\ 2.5\\0.5\\2.5\\-1\\-5.5\\1.5\\ 2.5\\0.5\\2.5\\};
\addplot[bl] table[ts]{0\\3.5\\3\\-1\\-2.5\\-1\\ 0\\3.5\\3\\-1\\-2.5\\-1\\ 0\\3.5\\3\\-1\\-2.5\\-1\\ 0\\3.5\\3\\-1\\-2.5\\-1\\ 0\\3.5\\3\\-1\\-2.5\\-1\\ 0\\3.5\\3\\-1\\-2.5\\-1\\ 0\\3.5\\3\\-1\\-2.5\\-1\\ 0\\3.5\\3\\-1\\-2.5\\-1\\ 0\\3.5\\3\\-1\\-2.5\\-1\\ 0\\3.5\\3\\-1\\-2.5\\-1\\ 0\\3.5\\3\\};
\addplot[blk] table[ts]{-0.2\\0.5\\-0.9\\-2.3\\-3\\-0.6\\ 0.7\\2.3\\0\\-2.3\\-3.5\\-1.4\\ -0.2\\1.2\\-0.7\\-2.6\\-3.5\\-1.4\\ -0.2\\1.2\\-0.5\\-2.2\\-3\\-1.2\\ -0.2\\1\\-0.8\\-2.6\\-3.5\\-1.2\\ 0\\1.5\\-0.7\\-2.9\\-4\\-0.7\\ 1.2\\3.4\\0.8\\-1.7\\-3\\-1.1\\ -0.1\\1.2\\-0.5\\-2.2\\-3\\-0.5\\ 0.9\\2.6\\0.6\\-1.5\\-2.5\\-0.5\\ 0.6\\1.9\\0.1\\-1.6\\-2.5\\-1.1\\ 0\\0.5\\0.5\\};
\end{axis}

% ---------------- TSUKUB32
\begin{axis}[panel, at={(328.65pt,-164.5pt)}, title={TSUKUB32}]
\addplot[noise] table[x=x,y=y]{\NA};
\addplot[noise] table[x=x,y=y]{\NB};
\addplot[gr] table[ts]{-1\\-1\\0.5\\2\\1.5\\0\\ -1\\-1\\0.5\\2\\1.5\\0\\ -1\\-1\\0.5\\2\\1.5\\0\\ -1\\-1\\0.5\\2\\1.5\\0\\ -1\\-1\\0.5\\2\\1.5\\0\\ -1\\-1\\0.5\\2\\1.5\\0\\ -1\\-1\\0.5\\2\\1.5\\0\\ -1\\-1\\0.5\\2\\1.5\\0\\ -1\\-1\\0.5\\2\\1.5\\0\\ -1\\-1\\0.5\\2\\1.5\\0\\ -1\\-1\\0.5\\};
\addplot[rd] table[ts]{-2.5\\-1.5\\1\\3\\2\\-1\\ -2.5\\-1.5\\1\\3\\2\\-1\\ -2.5\\-1.5\\1\\3\\2\\-1\\ -2.5\\-1.5\\1\\3\\2\\-1\\ -2.5\\-1.5\\1\\3\\2\\-1\\ -2.5\\-1.5\\1\\3\\2\\-1\\ -2.5\\-1.5\\1\\3\\2\\-1\\ -2.5\\-1.5\\1\\3\\2\\-1\\ -2.5\\-1.5\\1\\3\\2\\-1\\ -2.5\\-1.5\\1\\3\\2\\-1\\ -2.5\\-1.5\\1\\};
\addplot[bl] table[ts]{1\\0.5\\-5\\0.5\\2.5\\2\\ 1\\0.5\\-5\\0.5\\2.5\\2\\ 1\\0.5\\-5\\0.5\\2.5\\2\\ 1\\0.5\\-5\\0.5\\2.5\\2\\ 1\\0.5\\-5\\0.5\\2.5\\2\\ 1\\0.5\\-5\\0.5\\2.5\\2\\ 1\\0.5\\-5\\0.5\\2.5\\2\\ 1\\0.5\\-5\\0.5\\2.5\\2\\ 1\\0.5\\-5\\0.5\\2.5\\2\\ 1\\0.5\\-5\\0.5\\2.5\\2\\ 1\\0.5\\-5\\};
\addplot[blk] table[ts]{1\\0\\0.5\\1.5\\1.8\\0.5\\ -0.5\\-0.8\\0.5\\2\\2\\0.5\\ -0.8\\-1\\0.3\\1.8\\1.5\\0.3\\ -1\\-1\\0.5\\2\\2\\0.8\\ -0.5\\-0.5\\0.8\\2\\1.8\\0.5\\ -0.8\\-1\\0.3\\1.5\\1.5\\0.3\\ -1\\-0.8\\0.5\\1.8\\2\\0.8\\ -0.5\\-0.5\\0.8\\2.2\\2\\0.8\\ -0.3\\-0.5\\0.5\\1.5\\1.5\\0.5\\ -0.5\\-0.3\\0.8\\1.8\\1.8\\1\\ 0.5\\0.8\\1\\};
\end{axis}

% ---------------- WESTFORD
\begin{axis}[panel, at={(328.65pt,-238.5pt)}, title={WESTFORD}]
\addplot[noise] table[x=x,y=y]{\NA};
\addplot[gr] table[ts]{1\\-1\\-1.5\\0\\2\\2\\ 1\\-1\\-1.5\\0\\2\\2\\ 1\\-1\\-1.5\\0\\2\\2\\ 1\\-1\\-1.5\\0\\2\\2\\ 1\\-1\\-1.5\\0\\2\\2\\ 1\\-1\\-1.5\\0\\2\\2\\ 1\\-1\\-1.5\\0\\2\\2\\ 1\\-1\\-1.5\\0\\2\\2\\ 1\\-1\\-1.5\\0\\2\\2\\ 1\\-1\\-1.5\\0\\2\\2\\ 1\\-1\\-1.5\\};
\addplot[rd] table[ts]{-2.2\\-4\\-2.2\\1.2\\3\\1.2\\ -2.2\\-4\\-2.2\\1.2\\3\\1.2\\ -2.2\\-4\\-2.2\\1.2\\3\\1.2\\ -2.2\\-4\\-2.2\\1.2\\3\\1.2\\ -2.2\\-4\\-2.2\\1.2\\3\\1.2\\ -2.2\\-4\\-2.2\\1.2\\3\\1.2\\ -2.2\\-4\\-2.2\\1.2\\3\\1.2\\ -2.2\\-4\\-2.2\\1.2\\3\\1.2\\ -2.2\\-4\\-2.2\\1.2\\3\\1.2\\ -2.2\\-4\\-2.2\\1.2\\3\\1.2\\ -2.2\\-4\\-2.2\\};
\addplot[bl] table[ts]{0.5\\-1.5\\-2\\0\\2\\2.5\\ 0.5\\-1.5\\-2\\0\\2\\2.5\\ 0.5\\-1.5\\-2\\0\\2\\2.5\\ 0.5\\-1.5\\-2\\0\\2\\2.5\\ 0.5\\-1.5\\-2\\0\\2\\2.5\\ 0.5\\-1.5\\-2\\0\\2\\2.5\\ 0.5\\-1.5\\-2\\0\\2\\2.5\\ 0.5\\-1.5\\-2\\0\\2\\2.5\\ 0.5\\-1.5\\-2\\0\\2\\2.5\\ 0.5\\-1.5\\-2\\0\\2\\2.5\\ 0.5\\-1.5\\-2\\};
\addplot[blk] table[ts]{0\\-1.5\\-2\\-0.8\\1.8\\3\\ 1.2\\-2\\-4\\-2\\2\\4\\ 2.4\\-0.5\\-2\\-0.5\\2.5\\4\\ 2.7\\0.2\\-1\\0.5\\3.5\\5\\ 3.4\\0.5\\-1\\1\\5\\7\\ 4.4\\-0.5\\-3\\-1.4\\1.9\\3.5\\ 2\\-0.6\\-2\\-0.4\\3\\4.5\\ 3.1\\0.4\\-1\\1\\5\\7\\ 4.9\\1\\-1\\0.6\\4\\5.5\\ 4\\1.4\\0\\2.2\\6.8\\9\\ 6.5\\2\\0\\};
\end{axis}

% ---------------- WETTZELL
\begin{axis}[panel, at={(328.65pt,-311.5pt)}, title={WETTZELL}]
\addplot[noise] table[x=x,y=y]{\NA};
\addplot[noise] table[x=x,y=y]{\NB};
\addplot[noise] table[x=x,y=y]{\ND};
\addplot[gr] table[ts]{-1\\-2\\0.5\\3.5\\4\\1\\ -1\\-2\\0.5\\3.5\\4\\1\\ -1\\-2\\0.5\\3.5\\4\\1\\ -1\\-2\\0.5\\3.5\\4\\1\\ -1\\-2\\0.5\\3.5\\4\\1\\ -1\\-2\\0.5\\3.5\\4\\1\\ -1\\-2\\0.5\\3.5\\4\\1\\ -1\\-2\\0.5\\3.5\\4\\1\\ -1\\-2\\0.5\\3.5\\4\\1\\ -1\\-2\\0.5\\3.5\\4\\1\\ -1\\-2\\0.5\\};
\addplot[rd] table[ts]{-1.5\\-3\\0\\4.5\\5.5\\1.5\\ -1.5\\-3\\0\\4.5\\5.5\\1.5\\ -1.5\\-3\\0\\4.5\\5.5\\1.5\\ -1.5\\-3\\0\\4.5\\5.5\\1.5\\ -1.5\\-3\\0\\4.5\\5.5\\1.5\\ -1.5\\-3\\0\\4.5\\5.5\\1.5\\ -1.5\\-3\\0\\4.5\\5.5\\1.5\\ -1.5\\-3\\0\\4.5\\5.5\\1.5\\ -1.5\\-3\\0\\4.5\\5.5\\1.5\\ -1.5\\-3\\0\\4.5\\5.5\\1.5\\ -1.5\\-3\\0\\};
\addplot[bl] table[ts]{-1.5\\-2\\1\\3\\3\\1.5\\ -1.5\\-2\\1\\3\\3\\1.5\\ -1.5\\-2\\1\\3\\3\\1.5\\ -1.5\\-2\\1\\3\\3\\1.5\\ -1.5\\-2\\1\\3\\3\\1.5\\ -1.5\\-2\\1\\3\\3\\1.5\\ -1.5\\-2\\1\\3\\3\\1.5\\ -1.5\\-2\\1\\3\\3\\1.5\\ -1.5\\-2\\1\\3\\3\\1.5\\ -1.5\\-2\\1\\3\\3\\1.5\\ -1.5\\-2\\1\\};
\addplot[blk] table[ts]{-1.5\\-3\\2\\10.2\\13.5\\8.9\\ 1.1\\-2\\1.6\\7.6\\10\\6.1\\ -0.4\\-3\\0.3\\5.8\\8\\5.2\\ 0.4\\-1.5\\1.8\\9.2\\8.5\\4.5\\ 1.9\\0\\2.8\\7.4\\9.3\\6.2\\ 1.1\\-1\\2.1\\7.2\\9.3\\5.6\\ -0.5\\-3\\0.5\\8.5\\8\\4\\ -0.6\\-3\\0\\6.5\\5.8\\3\\ -1\\-3\\0.5\\6.2\\8.5\\6.1\\ 2.1\\0.5\\3.2\\9.5\\8\\4\\ 1.1\\-1\\0\\};
\end{axis}
\end{tikzpicture}
\end{document}
